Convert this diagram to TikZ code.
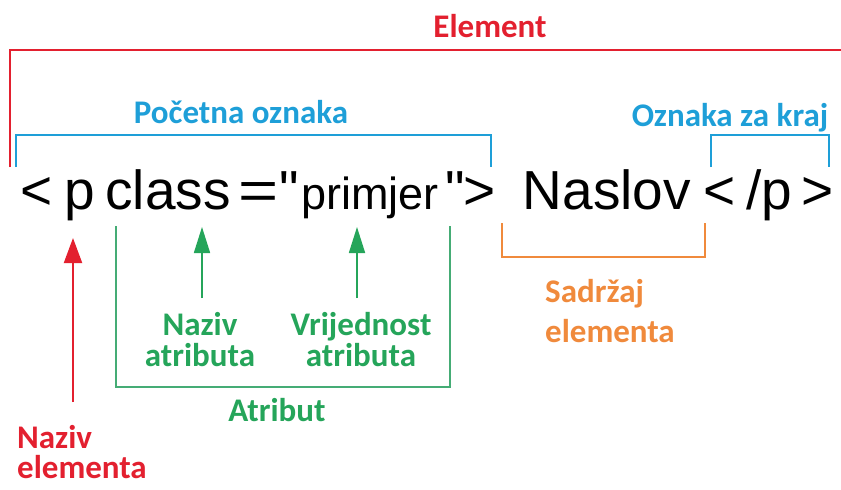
\documentclass[tikz,border=0pt]{standalone}
\usepackage{fontspec}
\setmainfont{Carlito}
\newfontfamily\arialf{Liberation Sans}
\usetikzlibrary{arrows.meta}
\definecolor{cred}{HTML}{E3202F}
\definecolor{cblue}{HTML}{1E9FD8}
\definecolor{cgreen}{HTML}{25A55A}
\definecolor{cgreenl}{HTML}{45AC75}
\definecolor{corange}{HTML}{F08A3C}
\tikzset{
  lbl/.style={font=\fontsize{33}{31}\selectfont\bfseries, inner sep=0pt, anchor=base},
  lbll/.style={lbl, anchor=base west},
  code/.style={font=\arialf\fontsize{55}{58}\selectfont, inner sep=0pt, anchor=base},
  codesm/.style={font=\arialf\fontsize{45}{48}\selectfont, inner sep=0pt, anchor=base},
  brk/.style={line width=1.7pt},
  arr/.style={line width=2pt, -{Triangle[length=25pt,width=18pt]}},
  garr/.style={line width=1.7pt, -{Triangle[length=26pt,width=16pt]}}
}
\begin{document}
\begin{tikzpicture}[x=1pt,y=-1pt]
\useasboundingbox[fill=white] (0,0) rectangle (841,490);
% top labels
\node[lbl, text=cred] (el) at (490,37) {Element};
\node[lbl, text=cblue] (po) at (241,123) {Početna oznaka};
\node[lbl, text=cblue] (ok) at (730,126) {Oznaka za kraj};
% brackets
\coordinate (r1) at (10,167); \coordinate (r2) at (10,50); \coordinate (r3) at (841,50);
\draw[brk, cred] (r1) -- (r2) -- (r3);
\coordinate (b1) at (16,167); \coordinate (b2) at (16,135); \coordinate (b3) at (491,135); \coordinate (b4) at (491,167);
\draw[brk, cblue] (b1) -- (b2) -- (b3) -- (b4);
\coordinate (c1) at (711,167); \coordinate (c2) at (711,135); \coordinate (c3) at (829,135); \coordinate (c4) at (829,167);
\draw[brk, cblue] (c1) -- (c2) -- (c3) -- (c4);
% code line
\node[code] (lt) at (37,209) {<};
\node[code] (p) at (80,209) {p};
\node[code] (cl) at (168,209) {class};
\node[code, xscale=1.25] (eq) at (259,209) {=};
\node[code] (q1) at (289,209) {"};
\node[codesm] (pr) at (370,209) {primjer};
\node[code] (q2) at (455,209) {"};
\node[code] (gt) at (480,209) {>};
\node[code] (na) at (607,209) {Naslov};
\node[code] (lt2) at (720,209) {<};
\node[code] (slp) at (769,209) {/p};
\node[code] (gt2) at (818,209) {>};
% green bracket
\coordinate (g1) at (116,226); \coordinate (g2) at (116,387); \coordinate (g3) at (450,387); \coordinate (g4) at (450,226);
\draw[brk, cgreenl] (g1) -- (g2) -- (g3) -- (g4);
% orange bracket
\coordinate (o1) at (502,223); \coordinate (o2) at (502,257); \coordinate (o3) at (705,257); \coordinate (o4) at (705,223);
\draw[brk, corange] (o1) -- (o2) -- (o3) -- (o4);
% bottom labels
\node[lbl, text=cgreen] (nat1) at (200,335) {Naziv};
\node[lbl, text=cgreen] (nat2) at (200,366) {atributa};
\node[lbl, text=cgreen] (vat1) at (361,335) {Vrijednost};
\node[lbl, text=cgreen] (vat2) at (361,366) {atributa};
\node[lbl, text=cgreen] (atr) at (277,421) {Atribut};
\node[lbll, text=cred] (nel1) at (17,448) {Naziv};
\node[lbll, text=cred] (nel2) at (17,478) {elementa};
\node[lbll, text=corange] (sad1) at (545,302) {Sadržaj};
\node[lbll, text=corange] (sad2) at (545,342) {elementa};
% arrows
\coordinate (ra) at (73,402); \coordinate (rt) at (73,238);
\draw[arr, cred] (ra) -- (rt);
\coordinate (ga1) at (202,298); \coordinate (gt1) at (202,227);
\draw[garr, cgreen] (ga1) -- (gt1);
\coordinate (ga2) at (357,298); \coordinate (gt2) at (357,227);
\draw[garr, cgreen] (ga2) -- (gt2);
\end{tikzpicture}
\end{document}
